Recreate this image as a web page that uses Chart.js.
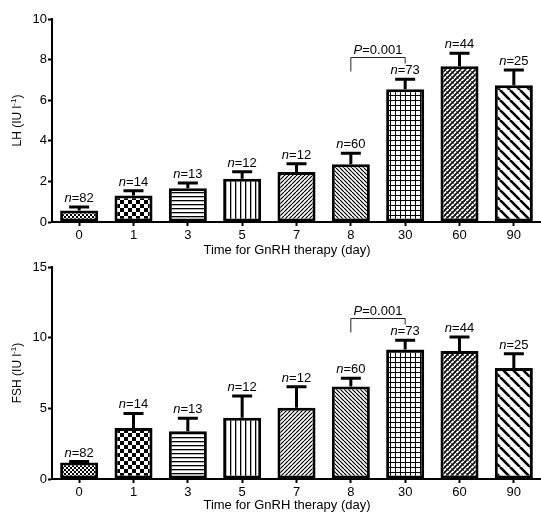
<!DOCTYPE html>
<html>
<head>
<meta charset="utf-8">
<script src="https://cdn.jsdelivr.net/npm/chart.js@4.4.1/dist/chart.umd.min.js"></script>
<style>
  body { margin: 0; background: #fff; }
  canvas { display: block; }
</style>
</head>
<body>
<canvas id="lh" width="541" height="257"></canvas>
<canvas id="fsh" width="541" height="256"></canvas>
<script>
// days of GnRH therapy and number of patients per group
var days = ['0', '1', '3', '5', '7', '8', '30', '60', '90'];
var counts = [82, 14, 13, 12, 12, 60, 73, 44, 25];

// LH (IU/l), mean and SEM
var lhMean = [0.57, 1.30, 1.66, 2.13, 2.46, 2.85, 6.54, 7.67, 6.74];
var lhSem  = [0.17, 0.24, 0.26, 0.35, 0.41, 0.54, 0.49, 0.64, 0.75];

// FSH (IU/l)
var fshMean = [1.17, 3.60, 3.38, 4.33, 5.05, 6.55, 9.17, 9.05, 7.86];
var fshSem  = [0.06, 1.04, 0.91, 1.55, 1.47, 0.57, 0.64, 1.00, 1.00];

var lhMax = 10, lhStep = 2;
var fshMax = 15, fshStep = 5;

var FONT = '"Liberation Sans", Arial, sans-serif';

function tile(w, h, draw) {
  var c = document.createElement('canvas');
  c.width = w; c.height = h;
  var g = c.getContext('2d');
  g.fillStyle = '#fff';
  g.fillRect(0, 0, w, h);
  g.fillStyle = '#000';
  g.strokeStyle = '#000';
  draw(g, w, h);
  return document.getElementById('lh').getContext('2d').createPattern(c, 'repeat');
}

function diag(g, s, up, lw) {
  g.lineWidth = lw;
  for (var k = -1; k <= 1; k++) {
    g.beginPath();
    if (up) { g.moveTo(k * s, s); g.lineTo(k * s + s, 0); }
    else { g.moveTo(k * s, 0); g.lineTo(k * s + s, s); }
    g.stroke();
  }
}

// one fill per day group
var fills = [
  tile(4, 4, function (g) { g.fillRect(0, 0, 2, 2); g.fillRect(2, 2, 2, 2); }),
  tile(8, 8, function (g) { g.fillRect(0, 0, 4, 4); g.fillRect(4, 4, 4, 4); }),
  tile(4, 4, function (g) { g.fillRect(0, 0, 4, 1.3); }),
  tile(5, 5, function (g) { g.fillRect(0, 0, 1.3, 5); }),
  tile(4, 4, function (g) { diag(g, 4, true, 1.2); }),
  tile(4, 4, function (g) { diag(g, 4, false, 1.2); }),
  tile(5, 5, function (g) { g.fillRect(0, 0, 5, 1); g.fillRect(0, 0, 1, 5); }),
  tile(5, 5, function (g) { diag(g, 5, true, 1.6); diag(g, 5, false, 0.7); }),
  tile(10, 10, function (g) { diag(g, 10, false, 2.6); })
];

function drawN(ctx, n, x, y) {
  ctx.font = 'italic 13px ' + FONT;
  var w1 = ctx.measureText('n').width;
  ctx.font = '13px ' + FONT;
  var w2 = ctx.measureText('=' + n).width;
  var x0 = x - (w1 + w2) / 2;
  ctx.textAlign = 'left';
  ctx.textBaseline = 'alphabetic';
  ctx.fillStyle = '#000';
  ctx.font = 'italic 13px ' + FONT;
  ctx.fillText('n', x0, y);
  ctx.font = '13px ' + FONT;
  ctx.fillText('=' + n, x0 + w1, y);
}

var annotate = {
  id: 'annotate',
  afterDatasetsDraw: function (chart, args, opts) {
    var ctx = chart.ctx;
    var ys = chart.scales.y;
    var ds = chart.data.datasets[0];
    var bars = chart.getDatasetMeta(0).data;
    var caps = [];
    ctx.save();
    bars.forEach(function (bar, i) {
      var top = ys.getPixelForValue(ds.data[i] + opts.sem[i]);
      caps.push(top);
      ctx.strokeStyle = '#000';
      ctx.lineWidth = 3;
      ctx.beginPath();
      ctx.moveTo(bar.x, bar.y);
      ctx.lineTo(bar.x, top);
      ctx.moveTo(bar.x - 10, top);
      ctx.lineTo(bar.x + 10, top);
      ctx.stroke();
      drawN(ctx, counts[i], bar.x, top - 5);
    });

    // significance bracket, day 8 vs day 30
    var a = bars[5].x, b = bars[6].x;
    var by = Math.round(caps[6] - 22) + 0.5;
    ctx.strokeStyle = '#222';
    ctx.lineWidth = 1;
    ctx.beginPath();
    ctx.moveTo(a, by + 14);
    ctx.lineTo(a, by);
    ctx.lineTo(b, by);
    ctx.lineTo(b, by + 6);
    ctx.stroke();
    ctx.font = 'italic 13px ' + FONT;
    var wp = ctx.measureText('P').width;
    ctx.font = '13px ' + FONT;
    var wr = ctx.measureText('=0.001').width;
    var px = (a + b) / 2 - (wp + wr) / 2;
    ctx.fillStyle = '#000';
    ctx.textAlign = 'left';
    ctx.textBaseline = 'alphabetic';
    ctx.font = 'italic 13px ' + FONT;
    ctx.fillText('P', px, by - 4);
    ctx.font = '13px ' + FONT;
    ctx.fillText('=0.001', px + wp, by - 4);

    // x title
    ctx.textAlign = 'center';
    ctx.textBaseline = 'middle';
    ctx.font = '13px ' + FONT;
    ctx.fillText('Time for GnRH therapy (day)', 287, opts.xTitleY);

    // y title with superscript
    var ca = chart.chartArea;
    ctx.translate(18, (ca.top + ca.bottom) / 2);
    ctx.rotate(-Math.PI / 2);
    ctx.font = '12px ' + FONT;
    var main = opts.label + ' (IU l';
    var w0 = ctx.measureText(main).width;
    ctx.font = '8px ' + FONT;
    var ws = ctx.measureText('-1').width;
    ctx.font = '12px ' + FONT;
    var wc = ctx.measureText(')').width;
    var sx = -(w0 + ws + wc) / 2;
    ctx.textAlign = 'left';
    ctx.fillText(main, sx, 0);
    ctx.font = '8px ' + FONT;
    ctx.fillText('-1', sx + w0, -4);
    ctx.font = '12px ' + FONT;
    ctx.fillText(')', sx + w0 + ws, 0);
    ctx.restore();
  }
};

function makeChart(id, values, sem, max, step, label, topPad, xH, xTitleY) {
  return new Chart(document.getElementById(id), {
    type: 'bar',
    data: {
      labels: days,
      datasets: [{
        data: values,
        backgroundColor: fills,
        borderColor: '#000',
        borderWidth: 3,
        borderSkipped: false,
        barPercentage: 0.7,
        categoryPercentage: 1
      }]
    },
    options: {
      responsive: false,
      animation: false,
      layout: { padding: { top: topPad, right: 0, left: 0, bottom: 0 } },
      plugins: {
        legend: { display: false },
        tooltip: { enabled: false },
        annotate: { sem: sem, label: label, xTitleY: xTitleY }
      },
      scales: {
        x: {
          afterFit: function (s) { s.height = xH; },
          border: { color: '#000', width: 2 },
          grid: { drawOnChartArea: false, offset: false, tickLength: 4, tickWidth: 2, tickColor: '#000' },
          ticks: { color: '#000', font: { family: FONT, size: 13 }, padding: 2, maxRotation: 0 }
        },
        y: {
          min: 0, max: max,
          afterFit: function (s) { s.width = 52; },
          border: { color: '#000', width: 2 },
          grid: { drawOnChartArea: false, tickLength: 4, tickWidth: 2, tickColor: '#000' },
          ticks: { stepSize: step, color: '#000', font: { family: FONT, size: 13 }, padding: 1 }
        }
      }
    },
    plugins: [annotate]
  });
}

makeChart('lh', lhMean, lhSem, lhMax, lhStep, 'LH', 19, 35, 250);
makeChart('fsh', fshMean, fshSem, fshMax, fshStep, 'FSH', 10, 34, 248);
</script>
</body>
</html>
